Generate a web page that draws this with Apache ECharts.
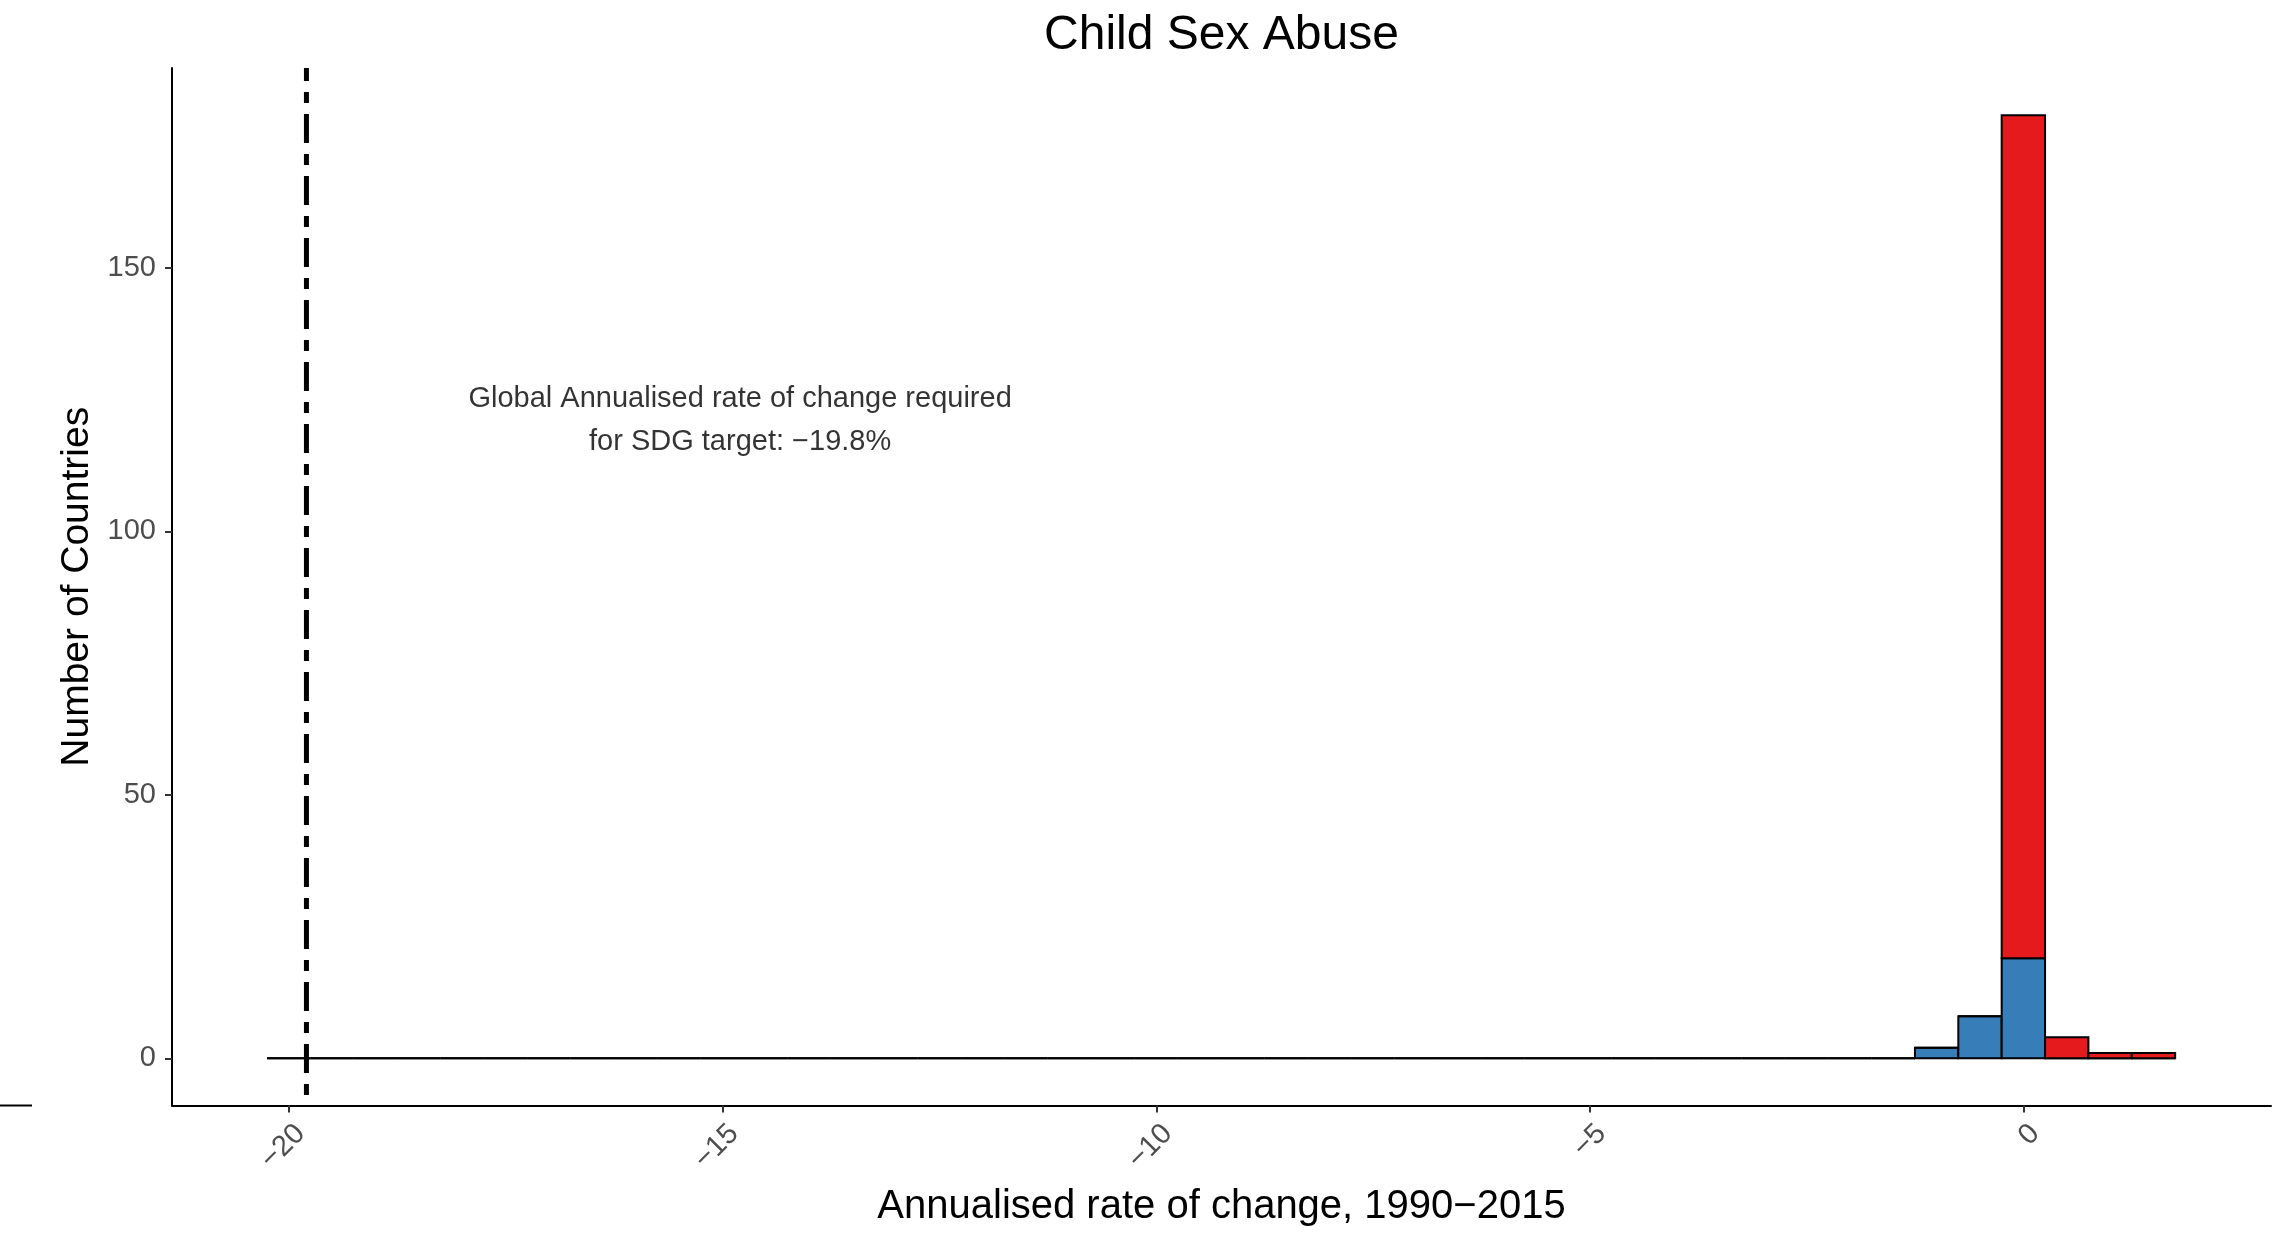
<!DOCTYPE html>
<html>
<head>
<meta charset="utf-8">
<script src="https://cdn.jsdelivr.net/npm/echarts@6/dist/echarts.min.js"></script>
<style>
html,body{margin:0;padding:0;background:#fff;}
#chart{width:2287px;height:1247px;}
</style>
</head>
<body>
<div id="chart"></div>
<script>
// ---- data ----
const binLeft = -20.255;   // left edge of first histogram bin
const binWidth = 0.5;
// counts per bin (44 bins), group shown in blue (bottom of stack)
const countsBlue = [
  0,0,0,0,0,0,0,0,0,0,
  0,0,0,0,0,0,0,0,0,0,
  0,0,0,0,0,0,0,0,0,0,
  0,0,0,0,0,0,0,0,2,8,
  19,0,0,0
];
// counts per bin, group shown in red (stacked above blue)
const countsRed = [
  0,0,0,0,0,0,0,0,0,0,
  0,0,0,0,0,0,0,0,0,0,
  0,0,0,0,0,0,0,0,0,0,
  0,0,0,0,0,0,0,0,0,0,
  160,4,1,1
];
const xTicks = [-20, -15, -10, -5, 0];
const yTicks = [0, 50, 100, 150];
const xRange = [-21.35, 2.85];
const yRange = [-8.95, 187.95];
const sdgTarget = -19.8;
const annotPos = [-14.8, 121];
const annotLines = ['Global Annualised rate of change required', 'for SDG target: \u221219.8%'];
const titleText = 'Child Sex Abuse';
const xTitle = 'Annualised rate of change, 1990\u22122015';
const yTitle = 'Number of Countries';

// ---- build ----
const FONT = "'Liberation Sans', Arial, Helvetica, sans-serif";
const blueData = [], redData = [];
for (let i = 0; i < countsBlue.length; i++) {
  const x0 = binLeft + i * binWidth, x1 = x0 + binWidth;
  blueData.push([x0, x1, 0, countsBlue[i]]);
  redData.push([x0, x1, countsBlue[i], countsBlue[i] + countsRed[i]]);
}
function renderBin(params, api) {
  const x0 = api.value(0), x1 = api.value(1), y0 = api.value(2), y1 = api.value(3);
  const p0 = api.coord([x0, y0]);
  const p1 = api.coord([x1, y1]);
  if (y1 === y0) {
    return {type: 'line', shape: {x1: p0[0], y1: p0[1], x2: p1[0], y2: p0[1]},
      style: {stroke: '#000', lineWidth: 2}};
  }
  return {type: 'rect',
    shape: {x: p0[0], y: p1[1], width: p1[0] - p0[0], height: p0[1] - p1[1]},
    style: {fill: api.visual('color'), stroke: '#000', lineWidth: 2}};
}

const gridLeft = 172, gridRight = 16, gridTop = 68, gridBottom = 141.5;
const W = 2287;
const chart = echarts.init(document.getElementById('chart'), null, {renderer: 'canvas'});
chart.setOption({
  backgroundColor: '#fff',
  animation: false,
  grid: {left: gridLeft, right: gridRight, top: gridTop, bottom: gridBottom, containLabel: false},
  xAxis: {
    type: 'value', min: xRange[0], max: xRange[1],
    name: xTitle, nameLocation: 'middle', nameGap: 81,
    nameTextStyle: {fontFamily: FONT, fontSize: 40, color: '#000'},
    axisLine: {show: true, onZero: false, lineStyle: {color: '#000', width: 2}},
    axisTick: {show: true, length: 7, lineStyle: {color: '#333', width: 2}, customValues: xTicks},
    axisLabel: {show: true, rotate: 45, margin: 35, padding: [0, -16, 0, 0],
      fontFamily: FONT, fontSize: 29, color: '#4D4D4D',
      customValues: xTicks,
      formatter: v => String(v).replace('-', '\u2212')},
    splitLine: {show: false}
  },
  yAxis: {
    type: 'value', min: yRange[0], max: yRange[1],
    name: yTitle, nameLocation: 'middle', nameGap: 75,
    nameTextStyle: {fontFamily: FONT, fontSize: 39, color: '#000'},
    axisLine: {show: true, onZero: false, lineStyle: {color: '#000', width: 2}},
    axisTick: {show: true, length: 7, lineStyle: {color: '#333', width: 2}, customValues: yTicks},
    axisLabel: {show: true, margin: 16, fontFamily: FONT, fontSize: 29, color: '#4D4D4D',
      customValues: yTicks},
    splitLine: {show: false}
  },
  graphic: [{
    type: 'text', x: gridLeft + (W - gridLeft - gridRight) / 2, y: 36,
    style: {text: titleText, fontFamily: FONT, fontSize: 48, fill: '#000',
      textAlign: 'center', textVerticalAlign: 'middle'}
  }, {
    type: 'line', shape: {x1: 0, y1: 1105.5, x2: 32, y2: 1105.5},
    style: {stroke: '#000', lineWidth: 2}
  }],
  series: [
    {type: 'custom', name: 'blue', renderItem: renderBin, data: blueData,
      itemStyle: {color: '#377EB8'}, encode: {x: [0, 1], y: [2, 3]}, z: 2},
    {type: 'custom', name: 'red', renderItem: renderBin, data: redData,
      itemStyle: {color: '#E41A1C'}, encode: {x: [0, 1], y: [2, 3]}, z: 2},
    {type: 'line', name: 'target', data: [[sdgTarget, yRange[1]], [sdgTarget, yRange[0]]],
      symbol: 'none', silent: true, z: 5,
      lineStyle: {color: '#000', width: 5, type: [29, 11, 11, 11], dashOffset: 16, cap: 'butt'}},
    {type: 'scatter', name: 'annot', data: [annotPos], symbolSize: 0, silent: true, z: 6,
      label: {show: true, position: 'inside', formatter: annotLines.join('\n'),
        fontFamily: FONT, fontSize: 29, lineHeight: 43, color: '#000', align: 'center'}}
  ]
});
</script>
</body>
</html>
